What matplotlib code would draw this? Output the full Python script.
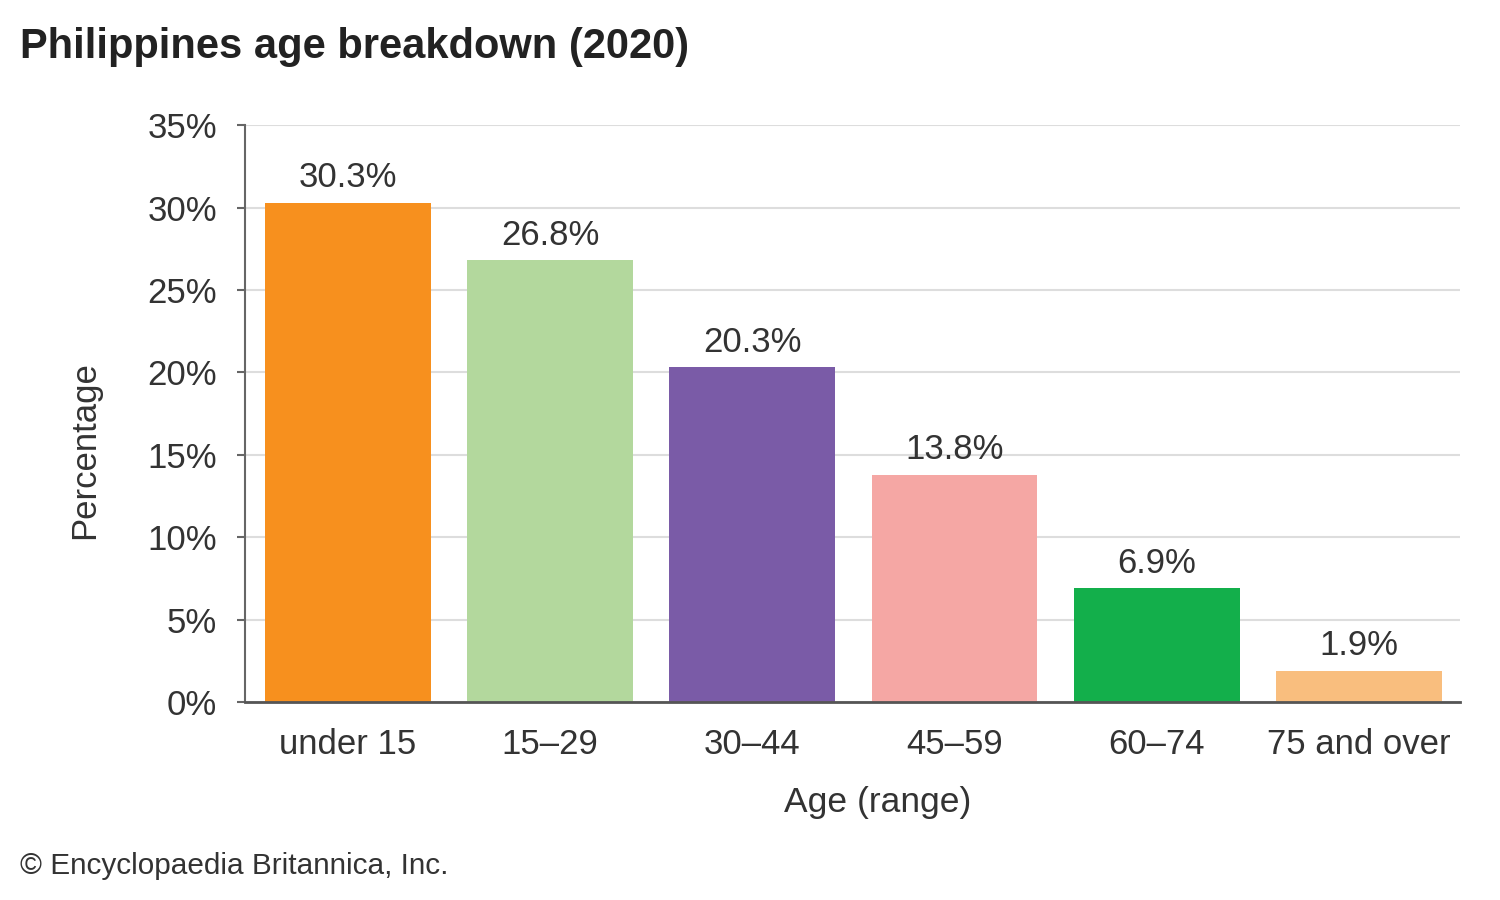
import matplotlib
matplotlib.use("Agg")
import matplotlib.pyplot as plt
from matplotlib.ticker import FuncFormatter

plt.rcParams['font.family'] = ['Liberation Sans', 'DejaVu Sans']

# data
ages = ["under 15", "15\u201329", "30\u201344", "45\u201359", "60\u201374", "75 and over"]
shares = [30.3, 26.8, 20.3, 13.8, 6.9, 1.9]
colours = ["#F7901E", "#B3D89D", "#7A5BA7", "#F5A7A4", "#13AF4B", "#F9BE7E"]

textcol = "#333333"

fig = plt.figure(figsize=(15, 9), dpi=100)
ax = fig.add_axes([0.1633, 0.22, 0.81, 0.641])

x = range(len(ages))
bars = ax.bar(x, shares, width=0.82, color=colours, zorder=3)

for b, v in zip(bars, shares):
    ax.text(b.get_x() + b.get_width() / 2, v + 0.5, f"{v}%",
            ha="center", va="bottom", fontsize=25, color=textcol, zorder=4)

ax.set_xlim(-0.51, 5.5)
ax.set_ylim(0, 35)
ax.set_yticks(range(0, 36, 5))
ax.yaxis.set_major_formatter(FuncFormatter(lambda v, p: f"{int(v)}%"))
ax.set_xticks(list(x))
ax.set_xticklabels(ages)

ax.grid(axis="y", color="#dddddd", linewidth=1.5, zorder=0)
ax.tick_params(axis="y", length=6, width=1.5, color="#666666", labelsize=25,
               labelcolor=textcol, pad=14)
ax.tick_params(axis="x", length=0, labelsize=25, labelcolor=textcol, pad=19)

for s in ["top", "right"]:
    ax.spines[s].set_visible(False)
ax.spines["left"].set_color("#666666")
ax.spines["left"].set_linewidth(1.5)
ax.spines["bottom"].set_color("#555555")
ax.spines["bottom"].set_linewidth(2)
ax.spines["bottom"].set_zorder(5)

ax.set_xlabel("Age (range)", fontsize=25.5, color=textcol)
ax.xaxis.set_label_coords(0.521, -0.175)
ax.xaxis.label.set_va("center")
ax.set_ylabel("Percentage", fontsize=25, color=textcol)
ax.yaxis.set_label_coords(-0.132, 0.437)
ax.yaxis.label.set_va("center")

fig.text(0.013, 0.948, "Philippines age breakdown (2020)", fontsize=30,
         fontweight="bold", color="#222222", ha="left", va="center")
fig.text(0.013, 0.038, "\u00a9 Encyclopaedia Britannica, Inc.", fontsize=21.4,
         color=textcol, ha="left", va="center")

fig.savefig("out.png", dpi=100)
